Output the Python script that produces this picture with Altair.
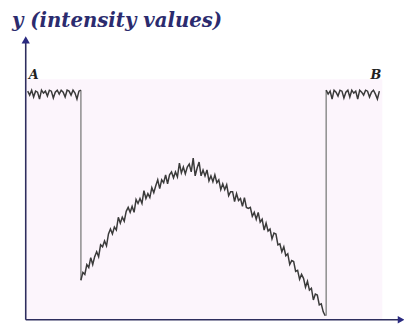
import altair as alt
import pandas as pd

# Positions along the scan line (pixel index) and intensity values
A_x = list(range(2, 57, 2))
A_v = [232, 228, 233, 226, 232, 231, 224, 233, 230, 232, 227, 233, 232, 225,
       231, 233, 229, 233, 231, 226, 233, 232, 228, 233, 230, 224, 232, 233]

B_x = list(range(305, 360, 2))
B_v = [233, 229, 232, 224, 233, 231, 227, 233, 232, 225, 231, 233, 226, 233,
       230, 232, 224, 233, 231, 228, 233, 232, 226, 231, 233, 229, 224, 232]

curve_x = list(range(56, 305, 2))
curve_v = [40, 48, 46, 56, 53, 63, 56, 64, 69, 64,
           76, 74, 80, 75, 87, 92, 87, 94, 91, 104,
           98, 104, 100, 110, 114, 109, 115, 109, 122, 118,
           123, 118, 131, 123, 128, 124, 134, 129, 136, 142,
           133, 142, 139, 147, 138, 147, 150, 144, 150, 145,
           159, 149, 155, 148, 155, 158, 150, 164, 146, 154,
           160, 146, 152, 146, 152, 141, 146, 140, 147, 139,
           142, 132, 138, 132, 137, 126, 130, 130, 120, 128,
           121, 123, 115, 124, 114, 113, 114, 105, 109, 102,
           109, 99, 102, 91, 98, 90, 92, 82, 88, 87,
           76, 77, 69, 74, 65, 67, 56, 60, 59, 49,
           50, 41, 46, 42, 33, 39, 30, 32, 20, 26,
           25, 15, 16, 8, 4]

edge_x = [56, 305]
edge_low = [40, 4]
edge_high = [233, 233]

labels = ["A", "B"]
label_x = [3, 350]
label_v = [244, 244]

title_text = "y (intensity values)"

SERIF = "DejaVu Serif"

XS = alt.Scale(domain=[-18, 378])
YS = alt.Scale(domain=[0, 306])

def X(field="x"):
    return alt.X(f"{field}:Q", scale=XS, axis=None)

def Y(field="v"):
    return alt.Y(f"{field}:Q", scale=YS, axis=None)

rows = []
for x, v in zip(A_x, A_v):
    rows.append({"seg": "A", "x": x, "v": v})
for x, v in zip(curve_x, curve_v):
    rows.append({"seg": "curve", "x": x, "v": v})
for x, v in zip(B_x, B_v):
    rows.append({"seg": "B", "x": x, "v": v})
sig = pd.DataFrame(rows)

bg = alt.Chart(pd.DataFrame({"x": [0], "x2": [362], "v": [0], "v2": [244]})).mark_rect(
    color="#fcf5fc").encode(x=X(), x2="x2:Q", y=Y(), y2="v2:Q")

edges = alt.Chart(pd.DataFrame({"x": edge_x, "v": edge_low, "v2": edge_high})).mark_rule(
    color="#8c8c8c", strokeWidth=1.5).encode(x=X(), y=Y(), y2="v2:Q")

signal = alt.Chart(sig).mark_line(color="#3a3a3a", strokeWidth=1.5).encode(
    x=X(), y=Y(), detail="seg:N", order="x:Q")

axis_col = "#2e2e5e"
xaxis = alt.Chart(pd.DataFrame({"x": [0], "x2": [380], "v": [0]})).mark_rule(
    color=axis_col, strokeWidth=1.6).encode(x=X(), x2="x2:Q", y=Y())
yaxis = alt.Chart(pd.DataFrame({"x": [0], "v": [0], "v2": [284]})).mark_rule(
    color=axis_col, strokeWidth=1.6).encode(x=X(), y=Y(), y2="v2:Q")

arrow_up = alt.Chart(pd.DataFrame({"x": [0], "v": [284]})).mark_point(
    shape="triangle-up", filled=True, size=70, color="#2a2a80", opacity=1).encode(x=X(), y=Y())
arrow_right = alt.Chart(pd.DataFrame({"x": [381], "v": [0]})).mark_point(
    shape="triangle-right", filled=True, size=60, color="#2a2a80", opacity=1).encode(x=X(), y=Y())

ab = alt.Chart(pd.DataFrame({"t": labels, "x": label_x, "v": label_v})).mark_text(
    font=SERIF, fontStyle="italic", fontWeight="bold", fontSize=13,
    color="#222222", align="left", baseline="alphabetic").encode(x=X(), y=Y(), text="t:N")

title = alt.Chart(pd.DataFrame({"t": [title_text]})).mark_text(
    font=SERIF, fontStyle="italic", fontWeight="bold", fontSize=20,
    color="#2b2b6e", align="left", baseline="alphabetic").encode(
    x=alt.value(4), y=alt.value(9), text="t:N")

chart = alt.layer(bg, edges, signal, xaxis, yaxis, arrow_up, arrow_right, ab, title).properties(
    width=396, height=306,
    autosize=alt.AutoSizeParams(type="none"),
    padding={"left": 0, "top": 8, "right": 6, "bottom": 6},
    background="white",
).configure_view(stroke=None)

chart.save("out.html", embed_options={"renderer": "svg", "actions": False})
